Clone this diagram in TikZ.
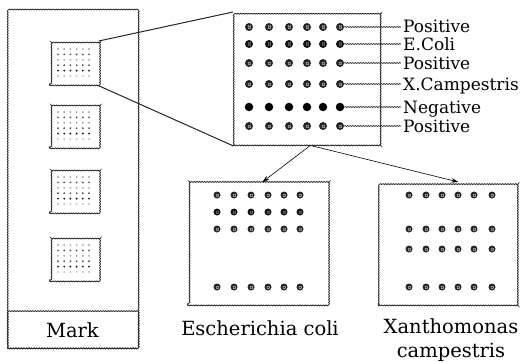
\documentclass[tikz,border=0pt]{standalone}
\usepackage{fontspec}
\setmainfont{DejaVu Serif}
\usetikzlibrary{arrows.meta,decorations.pathmorphing}
\begin{document}
\begin{tikzpicture}[x=1pt,y=-1pt,
  rough/.style={draw=black!85, line width=0.8pt, decorate,
    decoration={snake, amplitude=0.45pt, segment length=2.6pt}},
  box/.style={rough, rectangle, anchor=north west, inner sep=0pt},
  hash/.style={path picture={
    \draw[#1, line width=0.35pt]
      ([shift={(-1.1pt,-1.5pt)}]path picture bounding box.center) -- ++(0pt,3pt)
      ([shift={(1.1pt,-1.5pt)}]path picture bounding box.center) -- ++(0pt,3pt)
      ([shift={(-1.5pt,-1.1pt)}]path picture bounding box.center) -- ++(3pt,0pt)
      ([shift={(-1.5pt,1.1pt)}]path picture bounding box.center) -- ++(3pt,0pt);}},
  posdot/.style={circle, inner sep=0pt, minimum size=8pt, fill=black!85, hash=black!45},
  ecodot/.style={circle, inner sep=0pt, minimum size=8pt, fill=black!93, hash=black!65},
  negdot/.style={circle, inner sep=0pt, minimum size=8.5pt, fill=black},
  sposdot/.style={posdot, minimum size=7pt},
  secodot/.style={ecodot, minimum size=7pt},
  lbl/.style={font=\fontsize{17}{19}\selectfont, inner sep=0pt, anchor=base west},
  lblc/.style={font=\fontsize{19.5}{24}\selectfont, inner sep=0pt, align=center},
  leader/.style={rough, line width=0.7pt},
  conv/.style={draw=black!85, line width=1pt},
  arr/.style={draw=black, line width=0.6pt, -{Stealth[length=7pt,width=4.5pt]}}
]
\useasboundingbox (0,0) rectangle (524,361);

% left panel
\node[box, minimum width=130pt, minimum height=338pt] (panel) at (7,10) {};
\node[box, minimum width=130pt, minimum height=36pt] (mark) at (7,312) {};
\node[lblc] (marktxt) at (mark.center) {Mark};

% small squares with tiny dots
\foreach \i/\top in {1/41, 2/104, 3/169, 4/237}{
  \node[box, minimum width=49pt, minimum height=44pt] (sq\i) at (49,\top) {};
  \foreach \j/\g in {0/35,1/65,2/35,3/65,4/92,5/25}{
    \foreach \k in {0,...,5}{
      \fill[black!\g] (58+6.2*\k, \top+8+5.4*\j) circle (1.05);
    }
  }
}

% enlarged box
\node[box, minimum width=147pt, minimum height=133pt] (big) at (233,12) {};
\draw[conv] (sq1.north east) -- (big.north west);
\draw[conv] (sq1.south east) -- (big.south west);

\foreach \r/\yy/\t/\lab in {1/27/posdot/Positive, 2/44/ecodot/E.Coli, 3/63/posdot/Positive,
    4/84/posdot/X.Campestris, 5/107/negdot/Negative, 6/126/posdot/Positive}{
  \foreach \c/\xx in {1/249,2/269,3/289,4/307,5/323,6/340}{
    \node[\t] (d\r\c) at (\xx,\yy) {};
  }
  \node[lbl] (l\r) at (403,\yy+6) {\lab};
  \draw[leader] (d\r6.east) -- ([xshift=-2pt]d\r6.east -| l\r.west);
}

% result boxes
\node[box, minimum width=141pt, minimum height=123pt] (ecobox) at (187,182) {};
\node[box, minimum width=139pt, minimum height=123pt] (xanbox) at (378,182) {};

\foreach \r/\yy/\t in {1/195/sposdot, 2/212/secodot, 3/229/sposdot, 4/287/sposdot}{
  \foreach \c/\xx in {1/217,2/234,3/251,4/268,5/284,6/300}{
    \node[\t] (e\r\c) at (\xx,\yy) {};
  }
}
\foreach \r/\yy in {1/195, 2/229, 3/249, 4/287}{
  \foreach \c/\xx in {1/409,2/426,3/442,4/458,5/474,6/492}{
    \node[sposdot] (x\r\c) at (\xx,\yy) {};
  }
}

\node[lblc] (ecolbl) at (260,328) {Escherichia coli};
\node[lblc] (xanlbl) at (451,340) {Xanthomonas\\campestris};

% arrows
\draw[arr] ([xshift=3pt]big.south) -- ([xshift=4.5pt]ecobox.north);
\draw[arr] ([xshift=5pt]big.south) -- ([xshift=10.5pt]xanbox.north);
\end{tikzpicture}
\end{document}
